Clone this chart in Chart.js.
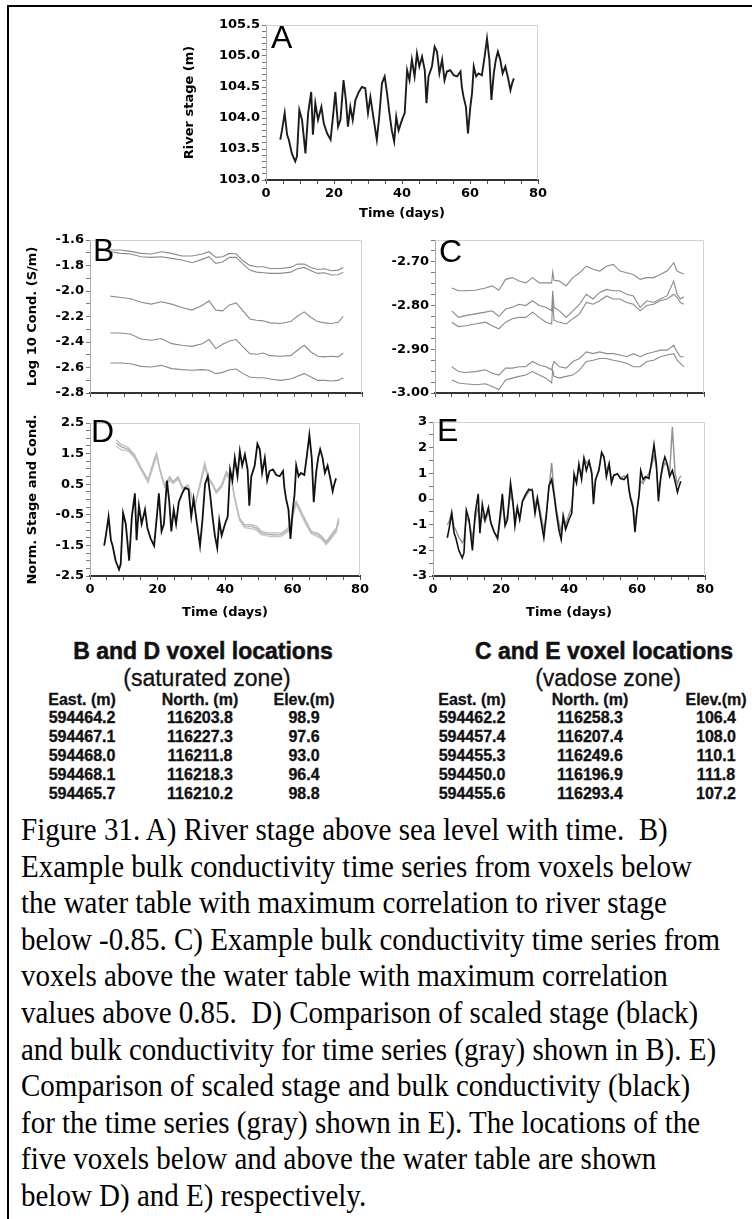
<!DOCTYPE html>
<html>
<head>
<meta charset="utf-8">
<title>Figure 31</title>
<script src="https://cdn.jsdelivr.net/npm/chart.js@4.4.1/dist/chart.umd.min.js"></script>
<style>
  html, body { margin: 0; padding: 0; background: #fff; }
  #page { position: relative; width: 752px; height: 1219px; overflow: hidden; background: #fff; }
  #frame { position: absolute; left: 7px; top: 5px; width: 800px; height: 1300px;
           border-top: 2px solid #000; border-left: 2px solid #000; }
  canvas { position: absolute; }
  .t { position: absolute; white-space: nowrap; color: #111; transform: translate(-50%, -50%);
       font-family: "Liberation Sans", Arial, sans-serif; }
  .head { font-size: 23px; font-weight: bold; -webkit-text-stroke: 0.5px #111; }
  .sub { font-size: 23px; -webkit-text-stroke: 0.3px #111; }
  .cell { font-size: 16px; font-weight: bold; -webkit-text-stroke: 0.3px #111; }
  #caption { position: absolute; left: 21px; top: 811px; font-family: "Liberation Serif", "Times New Roman", serif;
             font-size: 29px; color: #000; }
  #caption div { height: 36.6px; line-height: 36.6px; white-space: nowrap; transform: scaleY(1.1); }
</style>
</head>
<body>
<div id="page">
  <div id="frame"></div>
  <canvas id="chartA" width="378" height="215" style="left:172px; top:12px;"></canvas>
  <canvas id="chartB" width="364" height="177" style="left:10px; top:228px;"></canvas>
  <canvas id="chartC" width="336" height="177" style="left:380px; top:228px;"></canvas>
  <canvas id="chartD" width="362" height="216" style="left:10px; top:410px;"></canvas>
  <canvas id="chartE" width="337" height="216" style="left:380px; top:410px;"></canvas>
  <div id="tables"></div>
  <div id="caption"></div>
</div>
<script>
// river stage (A), days
const stageDays = [
  4.2, 4.7, 5.5, 6.2, 6.7, 7.6, 8.6, 9.1, 9.8, 10.6,
  11.6, 12.4, 13.3, 13.8, 14.5, 15.3, 16.3, 17.0, 18.0, 19.0,
  19.9, 20.4, 21.2, 21.9, 22.8, 23.5, 24.1, 24.8, 25.5, 26.3,
  27.3, 28.2, 29.2, 30.0, 30.7, 31.7, 32.6, 33.3, 34.1, 34.9,
  35.6, 36.3, 37.0, 37.7, 38.3, 39.0, 40.0, 40.8, 41.5, 42.2,
  42.9, 43.7, 44.4, 45.1, 45.9, 46.7, 47.2, 47.8, 48.8, 49.6,
  50.3, 51.0, 51.8, 52.5, 53.2, 54.2, 55.2, 56.2, 57.2, 57.6,
  58.1, 58.8, 59.4, 60.1, 60.6, 61.1, 61.8, 62.5, 63.5, 64.3,
  65.0, 65.7, 66.3, 67.0, 67.6, 68.2, 68.9, 69.6, 70.4, 71.2,
  71.9, 72.4, 72.9
];
const stageA = [
  103.65, 103.80, 104.08, 103.73, 103.65, 103.43, 103.30, 103.38, 104.13, 103.97,
  103.43, 104.08, 104.42, 103.73, 104.24, 103.97, 104.18, 103.91, 103.75, 103.65,
  104.13, 104.42, 103.86, 103.97, 104.61, 104.29, 103.86, 104.18, 103.97, 104.29,
  104.42, 104.50, 104.48, 104.08, 104.34, 103.97, 103.65, 104.02, 104.56, 104.67,
  104.40, 104.08, 103.80, 103.62, 104.02, 103.80, 103.97, 104.08, 104.77, 104.61,
  104.94, 104.67, 105.04, 104.83, 104.99, 104.77, 104.24, 104.67, 104.83, 105.15,
  105.07, 104.72, 104.94, 104.61, 104.75, 104.77, 104.69, 104.67, 104.75, 104.50,
  104.34, 104.18, 103.75, 104.18, 104.40, 104.83, 104.67, 104.72, 104.69, 104.99,
  105.28, 104.94, 104.29, 104.72, 104.94, 105.07, 104.94, 104.72, 104.83, 104.64,
  104.45, 104.56, 104.64
];
// scaled stage (black in D and E)
const stageNorm = [
  -1.51, -1.18, -0.56, -1.33, -1.51, -2.00, -2.29, -2.11, -0.44, -0.80,
  -2.00, -0.56, 0.20, -1.33, -0.20, -0.80, -0.33, -0.93, -1.29, -1.51,
  -0.44, 0.20, -1.04, -0.80, 0.62, -0.09, -1.04, -0.33, -0.80, -0.09,
  0.20, 0.38, 0.33, -0.56, 0.02, -0.80, -1.51, -0.69, 0.51, 0.76,
  0.16, -0.56, -1.18, -1.58, -0.69, -1.18, -0.80, -0.56, 0.98, 0.62,
  1.36, 0.76, 1.58, 1.11, 1.47, 0.98, -0.20, 0.76, 1.11, 1.82,
  1.64, 0.87, 1.36, 0.62, 0.93, 0.98, 0.80, 0.76, 0.93, 0.38,
  0.02, -0.33, -1.29, -0.33, 0.16, 1.11, 0.76, 0.87, 0.80, 1.47,
  2.11, 1.36, -0.09, 0.87, 1.36, 1.64, 1.36, 0.87, 1.11, 0.69,
  0.27, 0.51, 0.69
];
// scaled conductivity, vadose zone (gray in E)
const condNormE = [
  -1.0, -0.9, -0.5, -1.1, -1.2, -1.5, -1.7, -1.6, -0.7, -0.9,
  -1.5, -0.8, -0.3, -1.1, -0.6, -0.9, -0.5, -0.9, -1.3, -1.6,
  -0.7, -0.2, -0.9, -0.6, 0.2, -0.2, -0.8, -0.3, -0.7, -0.1,
  0.1, 0.3, 0.4, -0.3, 0.1, -0.6, -1.2, -0.6, 0.4, 1.4,
  0.3, -0.4, -0.9, -1.3, -0.6, -1.0, -0.6, -0.3, 0.8, 0.7,
  1.2, 1.0, 1.6, 1.4, 1.5, 1.1, 0.2, 0.7, 1.2, 1.8,
  1.6, 1.1, 1.4, 0.8, 0.9, 1.0, 0.8, 0.9, 0.8, 0.5,
  0.1, -0.2, -0.9, -0.4, 0.1, 0.7, 0.6, 0.8, 1.0, 1.3,
  1.7, 1.2, 0.3, 0.8, 1.2, 1.4, 1.3, 1.0, 2.8, 1.0,
  0.6, 0.8, 0.9
];

// B: log10 conductivity, saturated zone
const bDays = [2, 4, 6, 9, 12, 15, 18, 21, 24, 27, 30, 33, 35, 37, 39, 41, 43, 45, 47, 49, 51, 53, 56, 59, 61, 63, 65, 67, 69, 71, 73, 74.5];
const bLine1 = [-1.666, -1.671, -1.679, -1.679, -1.689, -1.705, -1.710, -1.692, -1.705, -1.726, -1.726, -1.710, -1.692, -1.736, -1.731, -1.705, -1.710, -1.763, -1.799, -1.810, -1.810, -1.823, -1.823, -1.815, -1.789, -1.789, -1.815, -1.831, -1.825, -1.841, -1.836, -1.815];
const bLine2 = [-1.679, -1.681, -1.692, -1.705, -1.710, -1.731, -1.736, -1.731, -1.744, -1.757, -1.778, -1.752, -1.731, -1.783, -1.773, -1.736, -1.736, -1.789, -1.836, -1.852, -1.857, -1.862, -1.862, -1.852, -1.825, -1.815, -1.841, -1.862, -1.857, -1.875, -1.873, -1.852];
const bLine3 = [null, null, -2.040, -2.051, -2.061, -2.088, -2.103, -2.085, -2.103, -2.129, -2.150, -2.114, -2.077, -2.150, -2.156, -2.109, -2.093, -2.156, -2.219, -2.229, -2.234, -2.250, -2.255, -2.240, -2.198, -2.164, -2.208, -2.240, -2.250, -2.255, -2.245, -2.198];
const bLine4 = [null, null, -2.329, -2.329, -2.339, -2.376, -2.386, -2.373, -2.413, -2.426, -2.434, -2.413, -2.381, -2.452, -2.418, -2.392, -2.381, -2.439, -2.491, -2.496, -2.486, -2.507, -2.512, -2.507, -2.465, -2.426, -2.478, -2.512, -2.517, -2.512, -2.517, -2.486];
const bLine5 = [null, null, -2.565, -2.565, -2.570, -2.591, -2.596, -2.583, -2.609, -2.617, -2.622, -2.617, -2.622, -2.648, -2.638, -2.617, -2.612, -2.648, -2.675, -2.680, -2.680, -2.690, -2.701, -2.690, -2.669, -2.648, -2.675, -2.701, -2.701, -2.706, -2.701, -2.680];

// C: log10 conductivity, vadose zone
const cDays = [5, 7, 9, 12, 15, 17, 19, 21, 23, 25, 27, 29, 31, 33, 34.7, 35, 35.4, 37, 39, 41, 43, 45, 47, 49, 51, 53, 55, 57, 59, 61, 63, 65, 67, 69, 71, 72, 73, 74];
const cLine1 = [-2.760, -2.766, -2.766, -2.765, -2.760, -2.755, -2.765, -2.740, -2.736, -2.744, -2.748, -2.736, -2.748, -2.748, -2.748, -2.723, -2.742, -2.744, -2.755, -2.736, -2.725, -2.710, -2.717, -2.721, -2.710, -2.706, -2.721, -2.725, -2.729, -2.740, -2.736, -2.736, -2.729, -2.721, -2.702, -2.721, -2.725, -2.727];
const cLine2 = [-2.812, -2.827, -2.823, -2.819, -2.815, -2.812, -2.825, -2.808, -2.804, -2.797, -2.800, -2.789, -2.800, -2.804, -2.812, -2.766, -2.804, -2.812, -2.827, -2.812, -2.797, -2.774, -2.785, -2.770, -2.763, -2.766, -2.766, -2.774, -2.778, -2.804, -2.789, -2.793, -2.785, -2.778, -2.744, -2.774, -2.785, -2.780];
const cLine3 = [-2.838, -2.848, -2.846, -2.842, -2.838, -2.846, -2.853, -2.838, -2.830, -2.827, -2.827, -2.815, -2.827, -2.838, -2.842, -2.789, -2.834, -2.838, -2.842, -2.830, -2.819, -2.793, -2.797, -2.789, -2.778, -2.785, -2.785, -2.793, -2.797, -2.812, -2.800, -2.797, -2.789, -2.785, -2.774, -2.781, -2.793, -2.797];
const cLine4 = [-2.940, -2.951, -2.953, -2.951, -2.947, -2.955, -2.959, -2.943, -2.943, -2.940, -2.940, -2.928, -2.936, -2.940, -2.947, -2.936, -2.928, -2.940, -2.943, -2.928, -2.921, -2.906, -2.910, -2.906, -2.910, -2.910, -2.913, -2.917, -2.910, -2.917, -2.910, -2.906, -2.902, -2.902, -2.891, -2.906, -2.917, -2.917];
const cLine5 = [-2.970, -2.977, -2.979, -2.981, -2.979, -2.985, -2.992, -2.970, -2.966, -2.962, -2.959, -2.951, -2.959, -2.966, -2.977, -2.947, -2.962, -2.966, -2.962, -2.959, -2.947, -2.928, -2.925, -2.921, -2.921, -2.925, -2.928, -2.932, -2.940, -2.940, -2.928, -2.925, -2.917, -2.913, -2.910, -2.925, -2.932, -2.940];

// D: scaled conductivity, saturated zone (gray)
const dDays = [7.8, 9.3, 11.3, 13.2, 15.2, 17.2, 18.7, 19.7, 20.6, 22.1, 23.6, 24.6, 26.1, 27.6, 29.0, 30.0, 31.0, 32.5, 34.0, 35.0, 36.5, 37.4, 39.0, 40.4, 41.9, 42.9, 44.3, 45.8, 47.8, 49.3, 50.8, 52.7, 54.7, 56.7, 58.7, 59.7, 61.1, 62.6, 64.1, 65.6, 67.6, 68.6, 70.0, 71.5, 73.0, 73.7];
const dGray1 = [1.95, 1.79, 1.70, 1.47, 1.03, 0.65, 1.20, 1.52, 1.05, 0.48, 0.75, 0.59, 0.75, 0.38, 0.48, 0.16, -0.28, 0.48, 1.20, 0.76, 0.48, 0.27, 0.48, 0.92, 0.70, 0.05, -0.60, -0.82, -0.82, -0.87, -1.04, -1.09, -1.09, -1.10, -0.93, -0.60, -0.06, -0.39, -0.72, -1.04, -1.10, -1.20, -1.37, -1.15, -0.93, -0.60];
const dGray2 = [1.75, 1.62, 1.58, 1.36, 0.95, 0.55, 1.05, 1.40, 0.98, 0.40, 0.62, 0.52, 0.66, 0.30, 0.42, 0.10, -0.20, 0.40, 1.05, 0.70, 0.42, 0.20, 0.40, 0.80, 0.62, 0.00, -0.68, -0.92, -0.95, -1.00, -1.15, -1.20, -1.22, -1.20, -1.05, -0.70, -0.15, -0.50, -0.85, -1.12, -1.22, -1.30, -1.48, -1.28, -1.05, -0.75];
const dGray3 = [1.85, 1.72, 1.64, 1.42, 1.00, 0.60, 1.12, 1.46, 1.02, 0.44, 0.70, 0.56, 0.70, 0.34, 0.45, 0.13, -0.24, 0.44, 1.12, 0.73, 0.45, 0.24, 0.44, 0.86, 0.66, 0.02, -0.64, -0.87, -0.88, -0.94, -1.10, -1.14, -1.16, -1.15, -0.99, -0.65, -0.10, -0.45, -0.78, -1.08, -1.16, -1.25, -1.42, -1.21, -0.99, -0.68];

// voxel location tables
const tableHeads = ['East. (m)', 'North. (m)', 'Elev.(m)'];
const satEast = ['594464.2', '594467.1', '594468.0', '594468.1', '594465.7'];
const satNorth = ['116203.8', '116227.3', '116211.8', '116218.3', '116210.2'];
const satElev = ['98.9', '97.6', '93.0', '96.4', '98.8'];
const vadEast = ['594462.2', '594457.4', '594455.3', '594450.0', '594455.6'];
const vadNorth = ['116258.3', '116207.4', '116249.6', '116196.9', '116293.4'];
const vadElev = ['106.4', '108.0', '110.1', '111.8', '107.2'];

const captionLines = [
  'Figure 31. A) River stage above sea level with time.\u00a0 B)',
  'Example bulk conductivity time series from voxels below',
  'the water table with maximum correlation to river stage',
  'below -0.85. C) Example bulk conductivity time series from',
  'voxels above the water table with maximum correlation',
  'values above 0.85.\u00a0 D) Comparison of scaled stage (black)',
  'and bulk conductivity for time series (gray) shown in B). E)',
  'Comparison of scaled stage and bulk conductivity (black)',
  'for the time series (gray) shown in E). The locations of the',
  'five voxels below and above the water table are shown',
  'below D) and E) respectively.'
];

const tickFont = { family: "'DejaVu Sans', sans-serif", weight: 'bold', size: 13 };

function pts(xs, ys) {
  return xs.map((x, i) => ({ x: x, y: ys[i] }));
}

function every(step, digits) {
  return (v) => {
    const r = v / step;
    return Math.abs(r - Math.round(r)) < 1e-6 ? v.toFixed(digits) : '';
  };
}

// faint top/right frame around the plot area
const plotFrame = {
  id: 'plotFrame',
  beforeDatasetsDraw(chart) {
    const { ctx, chartArea } = chart;
    ctx.save();
    ctx.strokeStyle = '#d2d2d2';
    ctx.lineWidth = 1;
    ctx.beginPath();
    ctx.moveTo(chartArea.left, chartArea.top + 0.5);
    ctx.lineTo(chartArea.right - 0.5, chartArea.top + 0.5);
    ctx.lineTo(chartArea.right - 0.5, chartArea.bottom);
    ctx.stroke();
    ctx.restore();
  }
};

// big panel letter in the top-left corner
const panelLetter = {
  id: 'panelLetter',
  afterDraw(chart, args, opts) {
    const { ctx, chartArea } = chart;
    ctx.save();
    ctx.font = '32px "Liberation Sans", Arial, sans-serif';
    ctx.fillStyle = '#000';
    ctx.textBaseline = 'top';
    ctx.fillText(opts.text, chartArea.left + opts.dx, chartArea.top + opts.dy);
    ctx.restore();
  }
};

function xAxis(withLabels, height) {
  return {
    type: 'linear', min: 0, max: 80,
    ticks: {
      stepSize: 5, maxTicksLimit: 1000, autoSkip: false, maxRotation: 0, minRotation: 0,
      padding: 2, color: '#000', font: tickFont,
      callback: (v) => (withLabels && v % 20 === 0 ? String(v) : '')
    },
    grid: { drawOnChartArea: false, tickLength: 4, color: '#555' },
    border: { color: '#333', width: 2 },
    title: { display: withLabels, text: 'Time (days)', color: '#000', font: tickFont, padding: { top: 0, bottom: 6 } },
    afterFit: (s) => { s.height = height; }
  };
}

function yAxis(min, max, step, fmt, width, title, titlePad) {
  return {
    type: 'linear', min: min, max: max,
    ticks: {
      stepSize: step, maxTicksLimit: 1000, autoSkip: false, includeBounds: false,
      padding: 2, color: '#000', font: tickFont, callback: fmt
    },
    grid: { drawOnChartArea: false, tickLength: 4, color: '#777' },
    border: { color: '#aaa', width: 1 },
    title: { display: !!title, text: title || '', color: '#000', font: tickFont, padding: { top: titlePad || 0, bottom: 0 } },
    afterFit: (s) => { s.width = width; }
  };
}

function line(xs, ys, color, width) {
  return { data: pts(xs, ys), borderColor: color, borderWidth: width, pointRadius: 0, tension: 0, fill: false };
}

function makeChart(id, datasets, x, y, letter, pad) {
  return new Chart(document.getElementById(id), {
    type: 'line',
    data: { datasets: datasets },
    options: {
      responsive: false,
      animation: false,
      layout: { padding: pad, autoPadding: false },
      plugins: {
        legend: { display: false },
        tooltip: { enabled: false },
        panelLetter: letter
      },
      scales: { x: x, y: y }
    },
    plugins: [plotFrame, panelLetter]
  });
}

const grayB = '#8a8a8a';

makeChart('chartA',
  [line(stageDays, stageA, '#1c1c1c', 1.9)],
  xAxis(true, 47),
  yAxis(103, 105.5, 0.1, every(0.5, 1), 94, 'River stage (m)', 10),
  { text: 'A', dx: 5, dy: -2 },
  { top: 13, right: 12, left: 0, bottom: 0 });

makeChart('chartB',
  [bLine1, bLine2, bLine3, bLine4, bLine5].map((ys) => line(bDays, ys, grayB, 1.1)),
  xAxis(false, 12),
  yAxis(-2.8, -1.6, 0.1, every(0.2, 1), 80, 'Log 10 Cond. (S/m)', 15),
  { text: 'B', dx: 3, dy: -4 },
  { top: 12, right: 12, left: 0, bottom: 0 });

makeChart('chartC',
  [cLine1, cLine2, cLine3, cLine4, cLine5].map((ys) => line(cDays, ys, grayB, 1.1)),
  xAxis(false, 12),
  yAxis(-3.0, -2.65, 0.025, every(0.1, 2), 55, '', 0),
  { text: 'C', dx: 4, dy: -3 },
  { top: 12, right: 12, left: 0, bottom: 0 });

makeChart('chartD',
  [line(stageDays, stageNorm, '#111', 1.8),
   line(dDays, dGray1, '#bcbcbc', 1.3),
   line(dDays, dGray2, '#c4c4c4', 1.3),
   line(dDays, dGray3, '#b0b0b0', 1.3)],
  xAxis(true, 50),
  yAxis(-2.5, 2.5, 0.25, (v) => {
    const r = v - 0.5;
    return Math.abs(r - Math.round(r)) < 1e-6 ? v.toFixed(1) : '';
  }, 80, 'Norm. Stage and Cond.', 15),
  { text: 'D', dx: 1, dy: -6 },
  { top: 13, right: 12, left: 0, bottom: 0 });

makeChart('chartE',
  [line(stageDays, stageNorm, '#111', 1.6),
   line(stageDays, condNormE, '#8f8f8f', 1.4)],
  xAxis(true, 50),
  yAxis(-3, 3, 0.5, every(1, 0), 53, '', 0),
  { text: 'E', dx: 4, dy: -6 },
  { top: 12, right: 12, left: 0, bottom: 0 });

// tables
const tables = document.getElementById('tables');
function place(text, cx, cy, cls) {
  const d = document.createElement('div');
  d.className = 't ' + cls;
  d.textContent = text;
  d.style.left = cx + 'px';
  d.style.top = cy + 'px';
  tables.appendChild(d);
}
function table(title, zone, cols, columns) {
  place(title, (cols[0] + cols[2]) / 2 + 10, 651, 'head');
  place(zone, (cols[0] + cols[2]) / 2 + 14, 678, 'sub');
  tableHeads.forEach((h, j) => place(h, cols[j], 700, 'cell'));
  columns.forEach((vals, j) => vals.forEach((v, i) => place(v, cols[j], 718 + 19 * i, 'cell')));
}
table('B and D voxel locations', '(saturated zone)', [82, 200, 304], [satEast, satNorth, satElev]);
table('C and E voxel locations', '(vadose zone)', [472, 590, 716], [vadEast, vadNorth, vadElev]);

const caption = document.getElementById('caption');
captionLines.forEach((s) => {
  const d = document.createElement('div');
  d.textContent = s;
  caption.appendChild(d);
});
</script>
</body>
</html>
